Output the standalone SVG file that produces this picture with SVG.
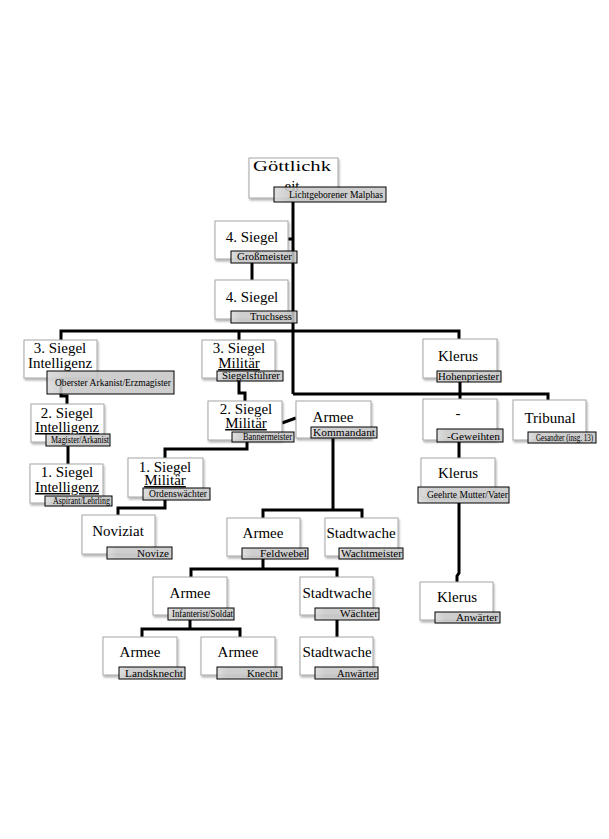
<svg xmlns="http://www.w3.org/2000/svg" width="609" height="839" viewBox="0 0 609 839">
<defs>
<filter id="sh" x="-10%" y="-10%" width="130%" height="140%">
<feDropShadow dx="1" dy="2" stdDeviation="1.2" flood-color="#000" flood-opacity="0.3"/>
</filter>
<linearGradient id="lg" x1="0" y1="0" x2="1" y2="0">
<stop offset="0" stop-color="#dadada"/>
<stop offset="0.15" stop-color="#c8c8c8"/>
<stop offset="1" stop-color="#c6c6c6"/>
</linearGradient>
</defs>
<style>
.box{fill:#fff;stroke:#a6a6a6;stroke-width:1;filter:url(#sh)}
.lbl{fill:url(#lg);fill-opacity:0.88;stroke:#000;stroke-width:1}
.t{font-family:"Liberation Serif","Times New Roman",serif;font-size:15px;fill:#000;text-anchor:middle}
.u{text-decoration:underline}
.lt{font-family:"Liberation Serif","Times New Roman",serif;font-size:10px;fill:#000}
.c{fill:none;stroke:#000;stroke-width:3}
</style>
<rect width="609" height="839" fill="#fff"/>
<g id="connectors">
<path class="c" d="M293 202V394"/>
<path class="c" d="M288 239H294"/>
<path class="c" d="M252 263V280"/>
<path class="c" d="M61 340V331H459V339"/>
<path class="c" d="M239 331V340"/>
<path class="c" d="M293 394H548V400"/>
<path class="c" d="M460 382V399"/>
<path class="c" d="M61 378V396H67V404"/>
<path class="c" d="M68 446V464"/>
<path class="c" d="M239 381V393H245V401"/>
<path class="c" d="M282 423L296 418"/>
<path class="c" d="M247 442V449H165V458"/>
<path class="c" d="M165 500V508H118V515"/>
<path class="c" d="M333 438V510"/>
<path class="c" d="M263 518V510H362V518"/>
<path class="c" d="M263 559V569"/>
<path class="c" d="M191 577V569H337V577"/>
<path class="c" d="M190 620V629"/>
<path class="c" d="M142 637V629H240V637"/>
<path class="c" d="M337 620V637"/>
<path class="c" d="M459 442V458"/>
<path class="c" d="M459 503V573L457 576V582"/>
</g>
<g id="n1"><rect class="box" x="249" y="158" width="89" height="40"/><text class="t" x="292" y="171" font-size="21" textLength="78" lengthAdjust="spacingAndGlyphs">Göttlichk</text><text class="t" x="292" y="191" font-size="21">eit</text><rect class="lbl" x="274" y="187" width="112" height="15"/><text class="lt" x="289" y="198" textLength="94" lengthAdjust="spacingAndGlyphs">Lichtgeborener Malphas</text></g>
<g id="n2"><rect class="box" x="215" y="221" width="73" height="38"/><text class="t" x="252" y="242">4. Siegel</text><rect class="lbl" x="231" y="251" width="66" height="12"/><text class="lt" x="237" y="260" font-size="11" textLength="55" lengthAdjust="spacingAndGlyphs">Großmeister</text></g>
<g id="n3"><rect class="box" x="215" y="280" width="73" height="39"/><text class="t" x="252" y="302">4. Siegel</text><rect class="lbl" x="231" y="311" width="66" height="12"/><text class="lt" x="250" y="320" font-size="11" textLength="42" lengthAdjust="spacingAndGlyphs">Truchsess</text></g>
<g id="n4"><rect class="box" x="24" y="340" width="73" height="38"/><text class="t" x="60" y="353">3. Siegel</text><text class="t" x="60" y="368">Intelligenz</text><rect class="lbl" x="47" y="371" width="127" height="23"/><text class="lt" x="55" y="386" textLength="116" lengthAdjust="spacingAndGlyphs">Oberster Arkanist/Erzmagister</text></g>
<g id="n5"><rect class="box" x="202" y="340" width="73" height="38"/><text class="t" x="239" y="353">3. Siegel</text><text class="t u" x="239" y="368">Militär</text><rect class="lbl" x="217" y="371" width="66" height="10"/><text class="lt" x="222" y="379" textLength="58" lengthAdjust="spacingAndGlyphs">Siegelsführer</text></g>
<g id="n6"><rect class="box" x="423" y="339" width="74" height="39"/><text class="t" x="458" y="361">Klerus</text><rect class="lbl" x="437" y="371" width="64" height="11"/><text class="lt" x="438" y="380" textLength="61" lengthAdjust="spacingAndGlyphs">Hohenpriester</text></g>
<g id="n7"><rect class="box" x="31" y="404" width="73" height="38"/><text class="t" x="67" y="418">2. Siegel</text><text class="t u" x="67" y="432">Intelligenz</text><rect class="lbl" x="46" y="434" width="64" height="12"/><text class="lt" x="51" y="443" font-size="8" textLength="58" lengthAdjust="spacingAndGlyphs">Magister/Arkanist</text></g>
<g id="n8"><rect class="box" x="208" y="401" width="74" height="39"/><text class="t" x="246" y="414">2. Siegel</text><text class="t u" x="246" y="428">Militär</text><rect class="lbl" x="232" y="432" width="62" height="10"/><text class="lt" x="243" y="440" font-size="8" textLength="49" lengthAdjust="spacingAndGlyphs">Bannermeister</text></g>
<g id="n9"><rect class="box" x="296" y="401" width="75" height="37"/><text class="t" x="333" y="422">Armee</text><rect class="lbl" x="311" y="427" width="66" height="11"/><text class="lt" x="313" y="436" font-size="11" textLength="62" lengthAdjust="spacingAndGlyphs">Kommandant</text></g>
<g id="n10"><rect class="box" x="423" y="399" width="74" height="41"/><text class="t" x="458" y="418">-</text><rect class="lbl" x="437" y="429" width="66" height="13"/><text class="lt" x="447" y="440" font-size="11" textLength="53" lengthAdjust="spacingAndGlyphs">-Geweihten</text></g>
<g id="n11"><rect class="box" x="513" y="400" width="73" height="40"/><text class="t" x="550" y="423">Tribunal</text><rect class="lbl" x="528" y="432" width="68" height="11"/><text class="lt" x="536" y="441" font-size="7" textLength="57" lengthAdjust="spacingAndGlyphs">Gesandter (insg. 13)</text></g>
<g id="n12"><rect class="box" x="30" y="464" width="73" height="39"/><text class="t" x="67" y="477">1. Siegel</text><text class="t u" x="67" y="492">Intelligenz</text><rect class="lbl" x="45" y="496" width="67" height="10"/><text class="lt" x="53" y="504" font-size="8" textLength="57" lengthAdjust="spacingAndGlyphs">Aspirant/Lehrling</text></g>
<g id="n13"><rect class="box" x="128" y="458" width="75" height="39"/><text class="t" x="165" y="472">1. Siegel</text><text class="t u" x="165" y="485">Militär</text><rect class="lbl" x="143" y="488" width="67" height="12"/><text class="lt" x="149" y="497" textLength="58" lengthAdjust="spacingAndGlyphs">Ordenswächter</text></g>
<g id="n14"><rect class="box" x="421" y="458" width="74" height="39"/><text class="t" x="458" y="478">Klerus</text><rect class="lbl" x="418" y="487" width="91" height="16"/><text class="lt" x="427" y="498" textLength="81" lengthAdjust="spacingAndGlyphs">Geehrte Mutter/Vater</text></g>
<g id="n15"><rect class="box" x="82" y="515" width="73" height="39"/><text class="t" x="118" y="536">Noviziat</text><rect class="lbl" x="107" y="547" width="65" height="12"/><text class="lt" x="137" y="557" font-size="11" textLength="32" lengthAdjust="spacingAndGlyphs">Novize</text></g>
<g id="n16"><rect class="box" x="227" y="518" width="73" height="38"/><text class="t" x="263" y="538">Armee</text><rect class="lbl" x="242" y="548" width="66" height="11"/><text class="lt" x="260" y="557" font-size="11" textLength="47" lengthAdjust="spacingAndGlyphs">Feldwebel</text></g>
<g id="n17"><rect class="box" x="325" y="518" width="73" height="38"/><text class="t" x="361" y="538">Stadtwache</text><rect class="lbl" x="339" y="548" width="64" height="11"/><text class="lt" x="341" y="557" font-size="11" textLength="61" lengthAdjust="spacingAndGlyphs">Wachtmeister</text></g>
<g id="n18"><rect class="box" x="153" y="577" width="74" height="38"/><text class="t" x="190" y="598">Armee</text><rect class="lbl" x="168" y="608" width="66" height="12"/><text class="lt" x="172" y="617" font-size="8" textLength="61" lengthAdjust="spacingAndGlyphs">Infanterist/Soldat</text></g>
<g id="n19"><rect class="box" x="300" y="577" width="73" height="38"/><text class="t" x="337" y="598">Stadtwache</text><rect class="lbl" x="315" y="608" width="64" height="12"/><text class="lt" x="340" y="617" font-size="11" textLength="38" lengthAdjust="spacingAndGlyphs">Wächter</text></g>
<g id="n20"><rect class="box" x="420" y="582" width="73" height="38"/><text class="t" x="457" y="602">Klerus</text><rect class="lbl" x="435" y="612" width="65" height="11"/><text class="lt" x="456" y="621" font-size="11" textLength="42" lengthAdjust="spacingAndGlyphs">Anwärter</text></g>
<g id="n21"><rect class="box" x="103" y="637" width="74" height="38"/><text class="t" x="140" y="657">Armee</text><rect class="lbl" x="119" y="667" width="66" height="12"/><text class="lt" x="125" y="677" font-size="11" textLength="58" lengthAdjust="spacingAndGlyphs">Landsknecht</text></g>
<g id="n22"><rect class="box" x="201" y="637" width="74" height="38"/><text class="t" x="238" y="657">Armee</text><rect class="lbl" x="217" y="667" width="65" height="12"/><text class="lt" x="247" y="677" font-size="11" textLength="31" lengthAdjust="spacingAndGlyphs">Knecht</text></g>
<g id="n23"><rect class="box" x="300" y="637" width="73" height="38"/><text class="t" x="337" y="657">Stadtwache</text><rect class="lbl" x="315" y="667" width="63" height="12"/><text class="lt" x="337" y="677" font-size="11" textLength="40" lengthAdjust="spacingAndGlyphs">Anwärter</text></g>
</svg>
